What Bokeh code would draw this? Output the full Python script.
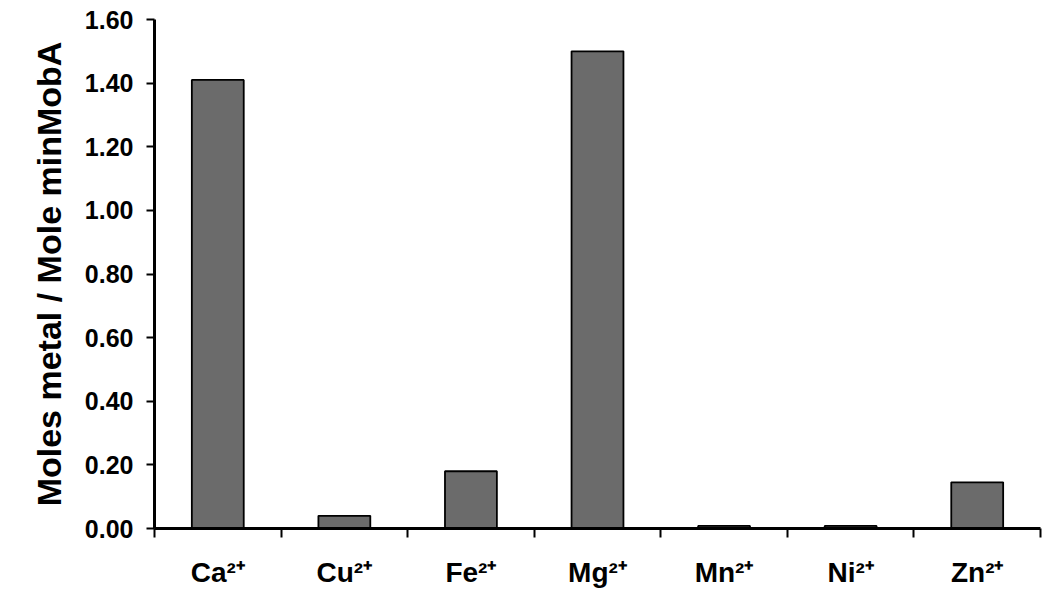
from bokeh.plotting import figure
from bokeh.models import Range1d, FixedTicker, LinearAxis, NumeralTickFormatter
from bokeh.embed import file_html
from bokeh.resources import INLINE

categories = ["Ca²⁺", "Cu²⁺", "Fe²⁺", "Mg²⁺", "Mn²⁺", "Ni²⁺", "Zn²⁺"]
values = [1.41, 0.04, 0.18, 1.50, 0.008, 0.008, 0.145]
y_ticks = [0.0, 0.2, 0.4, 0.6, 0.8, 1.0, 1.2, 1.4, 1.6]
y_label = "Moles metal / Mole minMobA"

n = len(categories)
centers = [i + 0.5 for i in range(n)]
bounds = [float(i) for i in range(n + 1)]

p = figure(
    output_backend="svg", toolbar_location=None,
    frame_width=886, frame_height=509,
    min_border_left=154, min_border_right=2, min_border_top=19, min_border_bottom=62,
    x_range=Range1d(0, n), y_range=Range1d(0, 1.6),
    x_axis_type=None, y_axis_type=None,
)
p.outline_line_color = None
p.background_fill_color = "white"
p.border_fill_color = "white"

p.vbar(x=centers, top=values, width=0.41, bottom=0,
       fill_color="#6b6b6b", line_color="black", line_width=1.8)

xa = LinearAxis(ticker=FixedTicker(ticks=centers, minor_ticks=bounds))
xa.major_label_overrides = {c: lab for c, lab in zip(centers, categories)}
xa.major_tick_out = 0
xa.major_tick_in = 0
xa.minor_tick_out = 9
xa.minor_tick_in = 0
xa.minor_tick_line_width = 2
xa.minor_tick_line_color = "black"
xa.axis_line_width = 3
xa.axis_line_color = "black"
xa.major_label_text_font = "Liberation Sans"
xa.major_label_text_font_style = "bold"
xa.major_label_text_font_size = "28px"
xa.major_label_text_color = "black"
xa.major_label_standoff = 19
p.add_layout(xa, "below")

ya = LinearAxis(ticker=FixedTicker(ticks=y_ticks, minor_ticks=[]),
                formatter=NumeralTickFormatter(format="0.00"))
ya.axis_label = y_label
ya.axis_label_text_font = "Liberation Sans"
ya.axis_label_text_font_style = "bold"
ya.axis_label_text_font_size = "34px"
ya.axis_label_text_color = "black"
ya.axis_label_standoff = 14
ya.major_tick_out = 8
ya.major_tick_in = 0
ya.major_tick_line_width = 2
ya.major_tick_line_color = "black"
ya.minor_tick_out = 0
ya.minor_tick_in = 0
ya.axis_line_width = 3
ya.axis_line_color = "black"
ya.major_label_text_font = "Liberation Sans"
ya.major_label_text_font_style = "bold"
ya.major_label_text_font_size = "25px"
ya.major_label_text_color = "black"
ya.major_label_standoff = 13
p.add_layout(ya, "left")

open("out.html", "w").write(file_html(p, INLINE))
